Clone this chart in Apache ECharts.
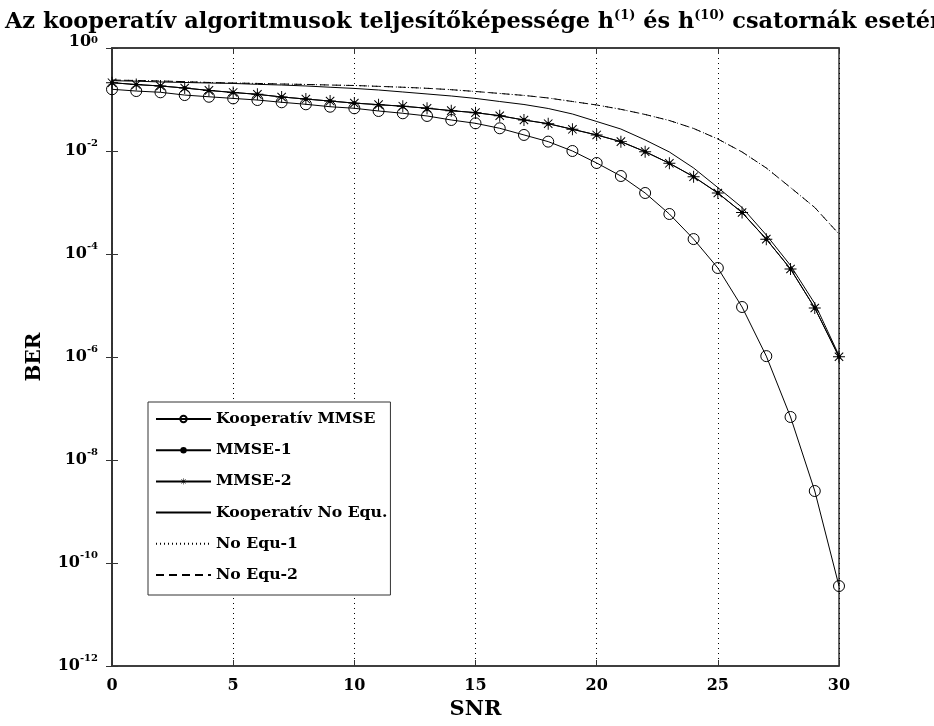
<!DOCTYPE html>
<html>
<head>
<meta charset="utf-8">
<script src="https://cdn.jsdelivr.net/npm/echarts@6/dist/echarts.min.js"></script>
<style>html,body{margin:0;padding:0;background:#fff}#c{width:934px;height:726px}</style>
</head>
<body>
<div id="c"></div>
<script>
// ---- data ----
const snr = [0,1,2,3,4,5,6,7,8,9,10,11,12,13,14,15,16,17,18,19,20,21,22,23,24,25,26,27,28,29,30];
const koopMMSE = [0.158,0.146,0.138,0.122,0.113,0.105,0.0977,0.0883,0.0807,0.0724,0.0675,0.0598,0.0540,0.0479,0.0400,0.0345,0.0276,0.0205,0.0152,0.0100,0.00585,0.00327,0.00153,5.98e-4,1.95e-4,5.35e-5,9.35e-6,1.04e-6,6.84e-8,2.50e-9,3.57e-11];
const mmse1 = [0.212,0.195,0.183,0.167,0.150,0.137,0.126,0.112,0.102,0.0933,0.0851,0.0794,0.0741,0.0676,0.0607,0.0555,0.0484,0.0400,0.0339,0.0264,0.0205,0.0152,0.00970,0.00577,0.00317,0.00153,6.40e-4,1.94e-4,5.12e-5,8.93e-6,1.01e-6];
const mmse2 = [0.212,0.195,0.183,0.167,0.150,0.137,0.126,0.112,0.102,0.0933,0.0851,0.0794,0.0741,0.0676,0.0607,0.0555,0.0484,0.0400,0.0339,0.0264,0.0205,0.0152,0.00970,0.00577,0.00317,0.00153,6.40e-4,1.94e-4,5.12e-5,8.93e-6,1.01e-6];
const koopNoEqu = [0.232,0.227,0.219,0.214,0.209,0.205,0.197,0.191,0.183,0.173,0.164,0.153,0.140,0.128,0.117,0.105,0.0914,0.0800,0.0669,0.0523,0.0374,0.0267,0.0164,0.00957,0.00468,0.00195,8.0e-4,2.34e-4,5.98e-5,1.09e-5,1.07e-6];
const noEqu1 = [0.239,0.234,0.229,0.222,0.214,0.209,0.205,0.200,0.196,0.191,0.187,0.180,0.173,0.165,0.155,0.143,0.131,0.120,0.107,0.0914,0.0782,0.0645,0.0512,0.0391,0.0274,0.0171,0.00957,0.00468,0.00195,8.0e-4,2.44e-4];
const noEqu2 = [0.239,0.234,0.229,0.222,0.214,0.209,0.205,0.200,0.196,0.191,0.187,0.180,0.173,0.165,0.155,0.143,0.131,0.120,0.107,0.0914,0.0782,0.0645,0.0512,0.0391,0.0274,0.0171,0.00957,0.00468,0.00195,8.0e-4,2.44e-4];
const seriesNames = ['Kooperatív MMSE','MMSE-1','MMSE-2','Kooperatív No Equ.','No Equ-1','No Equ-2'];
const xTicks = {min: 0, max: 30, interval: 5};
const yTicks = {min: 1e-12, max: 1, interval: 2};

const FONT = 'DejaVu Serif';
const pair = (ys) => snr.map((x, i) => [x, ys[i]]);
const star = 'path://M46 0L54 0L54 100L46 100ZM0 46L100 46L100 54L0 54ZM12 18L18 12L88 82L82 88ZM82 12L88 18L18 88L12 82Z';
const clear = 'rgba(0,0,0,0)';

const chart = echarts.init(document.getElementById('c'), null, {renderer: 'canvas'});
const baseLine = {color: '#000', width: 1};
chart.setOption({
  animation: false,
  backgroundColor: '#fff',
  title: {
    text: '{t|Az kooperatív algoritmusok teljesítőképessége h}{s|(1)}{t| és h}{s|(10)}{t| csatornák esetén}',
    left: 0, top: 4,
    textStyle: {
      rich: {
        t: {fontFamily: FONT, fontWeight: 'bold', fontSize: 22.4, color: '#000', lineHeight: 26},
        s: {fontFamily: FONT, fontWeight: 'bold', fontSize: 13, color: '#000', verticalAlign: 'top'}
      }
    }
  },
  grid: {left: 112, right: 95, top: 48, bottom: 60, show: true, borderColor: '#333', borderWidth: 1.5, backgroundColor: '#fff'},
  legend: {
    orient: 'vertical', left: 148, top: 402,
    itemWidth: 55, itemHeight: 8, itemGap: 15.2,
    padding: [9, 3, 12, 7],
    borderColor: '#333', borderWidth: 1, backgroundColor: '#fff',
    textStyle: {fontFamily: FONT, fontWeight: 'bold', fontSize: 15.7, color: '#000'},
    data: seriesNames
  },
  xAxis: [{
    type: 'value', min: xTicks.min, max: xTicks.max, interval: xTicks.interval,
    name: 'SNR', nameLocation: 'middle', nameGap: 29,
    nameTextStyle: {fontFamily: FONT, fontWeight: 'bold', fontSize: 21, color: '#000'},
    axisLine: {show: true, lineStyle: {color: '#333', width: 1.5}},
    axisTick: {show: true, inside: true, length: 6, lineStyle: {color: '#333'}},
    axisLabel: {fontFamily: FONT, fontWeight: 'bold', fontSize: 16, color: '#000', margin: 12},
    splitLine: {show: true, lineStyle: {color: '#000', type: [1, 4], width: 1}}
  }, {
    type: 'value', position: 'top', min: xTicks.min, max: xTicks.max, interval: xTicks.interval,
    axisLine: {show: true, lineStyle: {color: '#333', width: 1.5}},
    axisTick: {show: true, inside: true, length: 6, lineStyle: {color: '#333'}},
    axisLabel: {show: false}, splitLine: {show: false}
  }],
  yAxis: [{
    type: 'log', logBase: 10, min: yTicks.min, max: yTicks.max, interval: yTicks.interval,
    name: 'BER', nameLocation: 'middle', nameGap: 67, nameRotate: 90,
    nameTextStyle: {fontFamily: FONT, fontWeight: 'bold', fontSize: 20, color: '#000'},
    axisLine: {show: true, lineStyle: {color: '#333', width: 1.5}},
    axisTick: {show: true, inside: true, length: 6, lineStyle: {color: '#333'}},
    splitLine: {show: false},
    axisLabel: {
      margin: 14,
      formatter: function (v) {
        const e = Math.round(Math.log10(v));
        if (e === 0) return '{tb|10}{ts|0}';
        return '{b|10}{s|' + e + '}';
      },
      rich: {
        b: {fontFamily: FONT, fontWeight: 'bold', fontSize: 16, color: '#000', lineHeight: 26},
        s: {fontFamily: FONT, fontWeight: 'bold', fontSize: 10, color: '#000', verticalAlign: 'top'},
        tb: {fontFamily: FONT, fontWeight: 'bold', fontSize: 16, color: '#000', lineHeight: 26, padding: [0, 0, 12, 0]},
        ts: {fontFamily: FONT, fontWeight: 'bold', fontSize: 10, color: '#000', verticalAlign: 'top'}
      }
    }
  }, {
    type: 'log', logBase: 10, position: 'right', min: yTicks.min, max: yTicks.max, interval: yTicks.interval,
    axisLine: {show: true, lineStyle: {color: '#333', width: 1.5}},
    axisTick: {show: true, inside: true, length: 6, lineStyle: {color: '#333'}},
    axisLabel: {show: false}, splitLine: {show: false}
  }],
  series: [
    {name: seriesNames[0], type: 'line', data: pair(koopMMSE), symbol: 'circle', symbolSize: 11, showAllSymbol: true,
     lineStyle: baseLine, itemStyle: {color: clear, borderColor: '#000', borderWidth: 1}},
    {name: seriesNames[1], type: 'line', data: pair(mmse1), symbol: 'circle', symbolSize: 4, showAllSymbol: true,
     lineStyle: baseLine, itemStyle: {color: '#000'}},
    {name: seriesNames[2], type: 'line', data: pair(mmse2), symbol: star, symbolSize: 12, showAllSymbol: true,
     lineStyle: baseLine, itemStyle: {color: '#000'}},
    {name: seriesNames[3], type: 'line', data: pair(koopNoEqu), symbol: 'none', lineStyle: baseLine, itemStyle: {color: clear, borderWidth: 0}},
    {name: seriesNames[4], type: 'line', data: pair(noEqu1), symbol: 'none', lineStyle: {color: '#000', width: 1, type: [1, 3]}, itemStyle: {color: clear, borderWidth: 0}},
    {name: seriesNames[5], type: 'line', data: pair(noEqu2), symbol: 'none', lineStyle: {color: '#000', width: 1, type: [8, 5]}, itemStyle: {color: clear, borderWidth: 0}}
  ]
});
</script>
</body>
</html>
